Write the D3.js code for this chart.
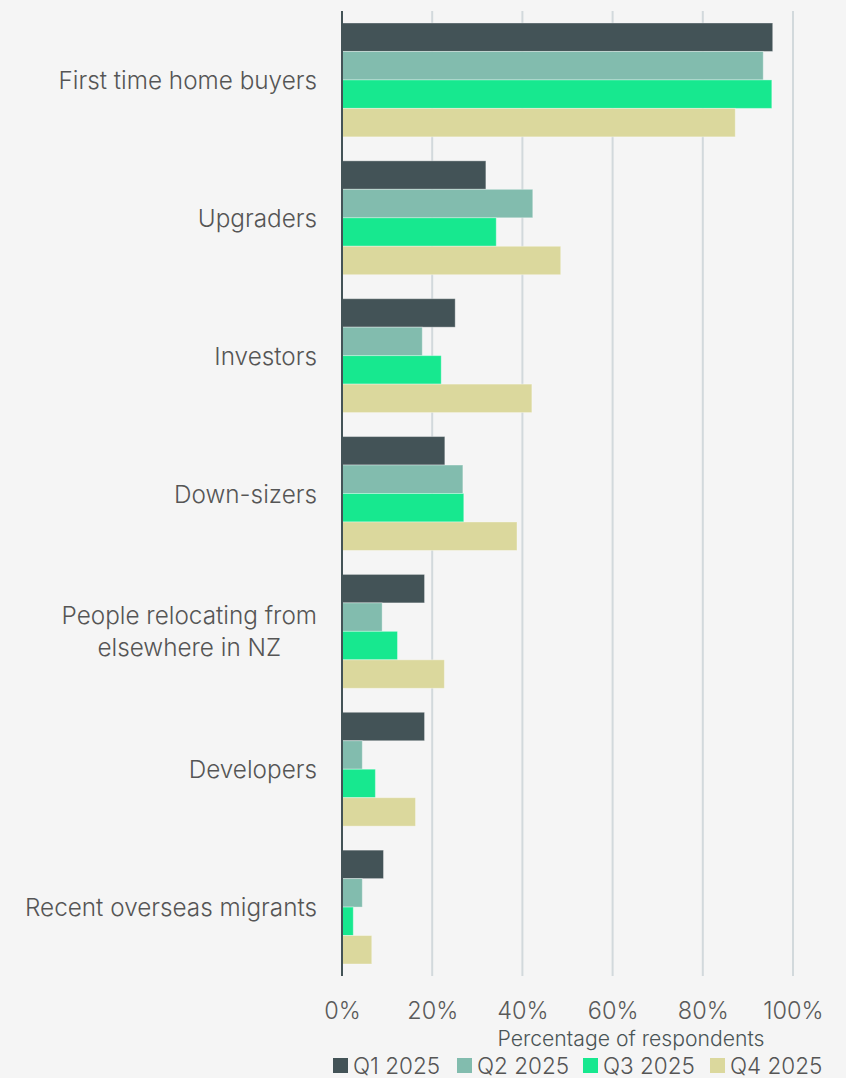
<!DOCTYPE html>
<html>
<head>
<meta charset="utf-8">
<script src="https://cdn.jsdelivr.net/npm/d3@7"></script>
<style>
  html, body { margin: 0; padding: 0; background: #f5f5f5; }
  svg { display: block; }
  text { font-family: Inter, Roboto, sans-serif; }
</style>
</head>
<body>
<svg id="chart" width="846" height="1078"></svg>
<script>
// Buyer groups, top to bottom (labels may wrap with "\n")
const categories = [
  "First time home buyers",
  "Upgraders",
  "Investors",
  "Down-sizers",
  "People relocating from\nelsewhere in NZ",
  "Developers",
  "Recent overseas migrants"
];
const seriesNames = ["Q1 2025", "Q2 2025", "Q3 2025", "Q4 2025"];
const q1 = [95.5, 31.9, 25.1, 22.8, 18.3, 18.3, 9.2];
const q2 = [93.4, 42.3, 17.8, 26.8, 8.9, 4.5, 4.5];
const q3 = [95.3, 34.2, 22.0, 27.0, 12.3, 7.4, 2.5];
const q4 = [87.2, 48.5, 42.1, 38.8, 22.7, 16.3, 6.6];
const xTicks = [0, 20, 40, 60, 80, 100];
const axisTitle = "Percentage of respondents";

const seriesValues = [q1, q2, q3, q4];
const colors = ["#435357", "#82bcae", "#17e88f", "#dbd89d"];

const svg = d3.select("#chart");
const plot = { left: 342, right: 793, top: 11, bottom: 976 };

const x = d3.scaleLinear().domain([0, 100]).range([plot.left, plot.right]);
const y = d3.scaleBand().domain(categories)
  .range([plot.top, plot.bottom])
  .paddingInner(0.174).paddingOuter(0.087);
const ySub = d3.scaleBand().domain(seriesNames).range([0, y.bandwidth()]);

// vertical gridlines
svg.append("g").selectAll("line")
  .data(xTicks.filter(t => t > 0))
  .join("line")
  .attr("x1", d => x(d)).attr("x2", d => x(d))
  .attr("y1", plot.top).attr("y2", plot.bottom)
  .attr("stroke", "#d2d9dc").attr("stroke-width", 2);

// bars
const groups = svg.append("g").selectAll("g")
  .data(categories)
  .join("g")
  .attr("transform", d => `translate(0,${y(d)})`);

groups.selectAll("rect")
  .data((d, i) => seriesNames.map((s, j) => ({ s, v: seriesValues[j][i], c: colors[j] })))
  .join("rect")
  .attr("x", x(0))
  .attr("y", d => ySub(d.s))
  .attr("width", d => x(d.v) - x(0))
  .attr("height", ySub.bandwidth())
  .attr("fill", d => d.c)
  .attr("stroke", "rgba(255,255,255,0.35)")
  .attr("stroke-width", 1);

// zero axis line
svg.append("line")
  .attr("x1", x(0)).attr("x2", x(0))
  .attr("y1", plot.top).attr("y2", plot.bottom)
  .attr("stroke", "#435357").attr("stroke-width", 2);

// category labels, right-aligned block; wrapped lines centred within the block
const labelRight = 317;
const lineGap = 32;
categories.forEach(cat => {
  const lines = cat.split("\n");
  const cy = y(cat) + y.bandwidth() / 2;
  const t = svg.append("text")
    .attr("font-size", 24.3)
    .attr("font-weight", 300)
    .attr("fill", "#555555")
    .attr("text-anchor", "middle")
    .attr("dominant-baseline", "central");
  const spans = lines.map((ln, k) => t.append("tspan")
    .attr("y", cy + (k - (lines.length - 1) / 2) * lineGap)
    .text(ln));
  const maxW = d3.max(spans, s => s.node().getComputedTextLength());
  spans.forEach(s => s.attr("x", labelRight - maxW / 2));
});

// x tick labels
const xAxis = d3.axisBottom(x).tickValues(xTicks).tickFormat(d => d + "%").tickSize(0).tickPadding(0);
const ax = svg.append("g").attr("transform", `translate(0,1002)`).call(xAxis);
ax.select(".domain").remove();
ax.selectAll("text")
  .attr("font-size", 23.5)
  .attr("font-weight", 300)
  .attr("fill", "#5a5a5a")
  .attr("font-family", "Inter, Roboto, sans-serif")
  .attr("dy", "0.72em")
  .attr("y", 0);

// axis title
svg.append("text")
  .attr("x", 631).attr("y", 1046)
  .attr("text-anchor", "middle")
  .attr("font-size", 21.2)
  .attr("font-weight", 300)
  .attr("fill", "#4a5456")
  .text(axisTitle);

// legend
const legendX = [333, 457, 583, 710];
const lg = svg.append("g").selectAll("g")
  .data(seriesNames)
  .join("g")
  .attr("transform", (d, i) => `translate(${legendX[i]},1058)`);
lg.append("rect").attr("width", 15).attr("height", 15)
  .attr("fill", (d, i) => colors[i]);
lg.append("text")
  .attr("x", 20).attr("y", 16)
  .attr("font-size", 22.5)
  .attr("font-weight", 300)
  .attr("fill", "#555555")
  .text(d => d);
</script>
</body>
</html>
